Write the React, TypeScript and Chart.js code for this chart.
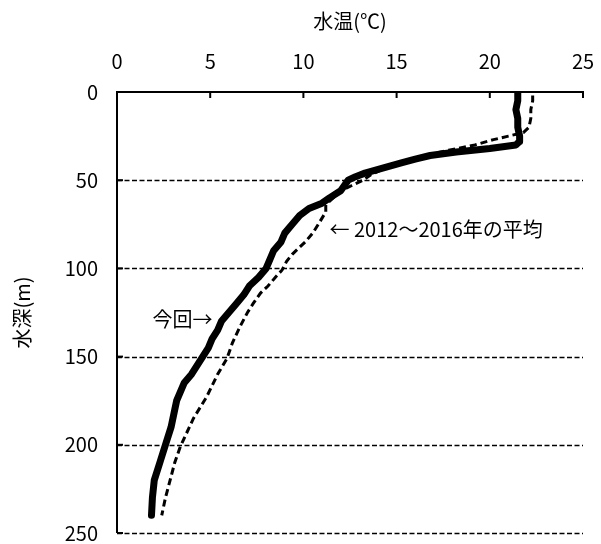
import React, { useEffect, useRef } from "react";
import { Chart, registerables } from "chart.js";

Chart.register(...registerables);

// 今回 (current survey): depth (m) and water temperature (°C)
const depthNow = [0, 5, 10, 15, 20, 25, 28, 30, 32, 34, 36, 38, 40, 43, 46, 48, 50, 53, 56, 60, 63, 66, 70, 75, 80, 85, 90, 95, 100, 105, 110, 115, 120, 125, 130, 135, 140, 145, 150, 155, 160, 165, 170, 175, 180, 190, 200, 210, 220, 230, 240];
const tempNow = [21.5, 21.5, 21.4, 21.5, 21.5, 21.6, 21.6, 21.4, 20.0, 18.2, 16.8, 16.0, 15.3, 14.3, 13.3, 12.8, 12.4, 12.2, 12.0, 11.4, 11.0, 10.3, 9.8, 9.4, 9.0, 8.8, 8.4, 8.2, 8.0, 7.6, 7.1, 6.8, 6.4, 6.0, 5.6, 5.4, 5.1, 4.9, 4.6, 4.3, 4.0, 3.6, 3.4, 3.2, 3.1, 2.9, 2.6, 2.3, 2.0, 1.9, 1.85];

// 2012～2016年の平均
const depthAvg = [2, 5, 10, 15, 20, 23, 25, 27, 30, 33, 36, 40, 44, 47, 50, 53, 56, 60, 64, 68, 75, 80, 85, 88, 92, 96, 101, 105, 110, 114, 120, 125, 133, 142, 151, 160, 173, 185, 201, 210, 220, 230, 240];
const tempAvg = [22.3, 22.3, 22.2, 22.2, 22.1, 21.8, 21.0, 20.2, 19.2, 17.8, 16.5, 15.3, 14.2, 13.6, 13.2, 12.6, 12.0, 11.6, 11.2, 11.2, 10.8, 10.5, 10.1, 9.8, 9.4, 9.1, 8.85, 8.5, 8.1, 7.7, 7.3, 7.0, 6.6, 6.2, 5.9, 5.4, 4.8, 4.1, 3.4, 3.1, 2.85, 2.6, 2.4];

const xTitle = "水温(℃)";
const yTitle = "水深(m)";
const labelAvg = "← 2012～2016年の平均";
const labelNow = "今回→";
// annotation anchor positions in data units [temp, depth]
const annotAvgPos = [11.4, 78];
const annotNowPos = [1.9, 129];

const FONT = "'Noto Sans CJK JP', 'Noto Sans', sans-serif";
const FS = 20;

const framePlugin = {
  id: "frame",
  beforeDatasetsDraw(chart: any) {
    const { ctx, chartArea } = chart;
    const xs = chart.scales.x;
    const ys = chart.scales.y;
    ctx.save();
    ctx.strokeStyle = "#000";
    // dashed horizontal grid lines
    ctx.lineWidth = 1.5;
    ctx.setLineDash([5, 2.5]);
    ys.ticks.forEach((t: any) => {
      if (t.value <= 0) return;
      const y = Math.round(ys.getPixelForValue(t.value)) + 0.5;
      ctx.beginPath();
      ctx.moveTo(chartArea.left, y);
      ctx.lineTo(chartArea.right, y);
      ctx.stroke();
    });
    ctx.setLineDash([]);
    ctx.lineWidth = 2;
    // top border (x axis line)
    const y0 = ys.getPixelForValue(0);
    ctx.beginPath();
    ctx.moveTo(chartArea.left - 1, y0);
    ctx.lineTo(chartArea.right + 1, y0);
    ctx.stroke();
    // left border
    const x0 = xs.getPixelForValue(0);
    ctx.beginPath();
    ctx.moveTo(x0, chartArea.top);
    ctx.lineTo(x0, chartArea.bottom);
    ctx.stroke();
    // inward tick marks
    xs.ticks.forEach((t: any) => {
      const x = xs.getPixelForValue(t.value);
      ctx.beginPath();
      ctx.moveTo(x, y0);
      ctx.lineTo(x, y0 + 6);
      ctx.stroke();
    });
    ys.ticks.forEach((t: any) => {
      const y = ys.getPixelForValue(t.value);
      ctx.beginPath();
      ctx.moveTo(x0, y);
      ctx.lineTo(x0 + 6, y);
      ctx.stroke();
    });
    ctx.restore();
  },
  afterDatasetsDraw(chart: any) {
    const { ctx } = chart;
    const xs = chart.scales.x;
    const ys = chart.scales.y;
    ctx.save();
    ctx.fillStyle = "#000";
    ctx.font = FS + "px " + FONT;
    ctx.textBaseline = "middle";
    ctx.textAlign = "left";
    ctx.fillText(labelAvg, xs.getPixelForValue(annotAvgPos[0]), ys.getPixelForValue(annotAvgPos[1]));
    ctx.fillText(labelNow, xs.getPixelForValue(annotNowPos[0]), ys.getPixelForValue(annotNowPos[1]));
    ctx.restore();
  },
};

export default function App() {
  const ref = useRef<HTMLCanvasElement>(null);
  useEffect(() => {
    if (!ref.current) return;
    const chart = new Chart(ref.current, {
      type: "line",
      data: {
        datasets: [
          {
            label: "平均",
            data: depthAvg.map((d, i) => ({ x: tempAvg[i], y: d })),
            borderColor: "#000",
            borderWidth: 3,
            borderDash: [7, 4],
            pointRadius: 0,
            fill: false,
            tension: 0,
          },
          {
            label: "今回",
            data: depthNow.map((d, i) => ({ x: tempNow[i], y: d })),
            borderColor: "#000",
            borderWidth: 7,
            borderCapStyle: "round",
            borderJoinStyle: "round",
            pointRadius: 0,
            fill: false,
            tension: 0,
          },
        ],
      },
      options: {
        responsive: true,
        maintainAspectRatio: false,
        animation: false,
        parsing: false as any,
        layout: { padding: { left: 0, right: 18, top: 0, bottom: 11 } },
        plugins: { legend: { display: false }, tooltip: { enabled: false } },
        scales: {
          x: {
            type: "linear",
            position: "top",
            min: 0,
            max: 25,
            ticks: { stepSize: 5, color: "#000", font: { size: FS, family: FONT }, padding: 19 },
            grid: { display: false, drawTicks: false },
            border: { display: false },
            title: { display: true, text: xTitle, color: "#000", font: { size: FS, family: FONT }, padding: { top: 9, bottom: 0 } },
            afterFit: (s: any) => { s.height = 92; s.paddingLeft = 0; s.paddingRight = 0; },
          },
          y: {
            type: "linear",
            reverse: true,
            min: 0,
            max: 250,
            ticks: { stepSize: 50, color: "#000", font: { size: FS, family: FONT }, padding: 19 },
            grid: { display: false, drawTicks: false },
            border: { display: false },
            title: { display: true, text: yTitle, color: "#000", font: { size: FS, family: FONT }, padding: { top: 10, bottom: 0 } },
            afterFit: (s: any) => { s.width = 117; s.paddingTop = 0; s.paddingBottom = 0; },
          },
        },
      },
      plugins: [framePlugin],
    });
    return () => chart.destroy();
  }, []);
  return (
    <div style={{ position: "fixed", left: 0, top: 0, width: 601, height: 544, background: "#fff" }}>
      <canvas ref={ref} />
    </div>
  );
}
